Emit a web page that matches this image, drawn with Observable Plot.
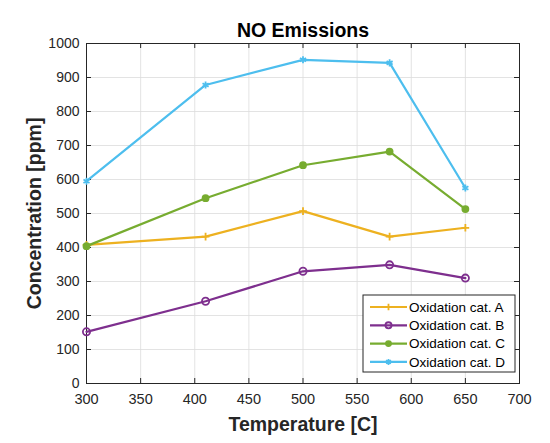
<!DOCTYPE html>
<html><head><meta charset="utf-8">
<script src="https://cdn.jsdelivr.net/npm/d3@7"></script>
<script src="https://cdn.jsdelivr.net/npm/@observablehq/plot@0.6"></script>
<style>body{margin:0;background:#fff;font-family:"Liberation Sans",Arial,sans-serif;}</style>
</head><body><div id="chart"></div>
<script>
const temperatures = [300, 410, 500, 580, 650];
const seriesNames = ["Oxidation cat. A", "Oxidation cat. B", "Oxidation cat. C", "Oxidation cat. D"];
const catA = [408, 432, 507, 432, 458];
const catB = [152, 242, 330, 349, 310];
const catC = [404, 545, 642, 682, 513];
const catD = [595, 878, 952, 943, 575];
const seriesColors = ["#EDB120", "#7E2F8E", "#77AC30", "#4DBEEE"];
const seriesSymbols = ["plus", "circle", "circle", "asterisk"];
const seriesFills = ["none", "none", "#77AC30", "none"];
const seriesR = [2.6, 3.6, 3.0, 3.3];
const xTicks = [300, 350, 400, 450, 500, 550, 600, 650, 700];
const yTicks = [0, 100, 200, 300, 400, 500, 600, 700, 800, 900, 1000];
const titleText = "NO Emissions";
const xLabel = "Temperature [C]";
const yLabel = "Concentration [ppm]";

const allValues = [catA, catB, catC, catD];
const rows = [];
allValues.forEach((vals, i) => vals.forEach((v, j) => rows.push({series: seriesNames[i], idx: i, x: temperatures[j], y: v})));

const W = 550, H = 443;
const mL = 86, mR = 31, mT = 43, mB = 60;
const innerW = W - mL - mR, innerH = H - mT - mB;
const tickLen = 5;
const axisColor = "#262626";

const marks = [
  Plot.gridX(xTicks, {stroke: "#dcdcdc", strokeOpacity: 1, strokeWidth: 0.8}),
  Plot.gridY(yTicks, {stroke: "#dcdcdc", strokeOpacity: 1, strokeWidth: 0.8}),
  Plot.axisX(xTicks, {tickSize: 0, tickPadding: 10, fontSize: 14.5, fill: axisColor, label: null, tickFormat: d3.format("d")}),
  Plot.axisY(yTicks, {tickSize: 0, tickPadding: 7, fontSize: 14, fill: axisColor, label: null, tickFormat: d3.format("d")}),
  Plot.tickX(xTicks, {x: d => d, stroke: axisColor, insetTop: innerH - tickLen}),
  Plot.tickX(xTicks, {x: d => d, stroke: axisColor, insetBottom: innerH - tickLen}),
  Plot.tickY(yTicks, {y: d => d, stroke: axisColor, insetRight: innerW - tickLen}),
  Plot.tickY(yTicks, {y: d => d, stroke: axisColor, insetLeft: innerW - tickLen}),
  Plot.frame({stroke: axisColor, strokeWidth: 1})
];
seriesNames.forEach((name, i) => {
  const data = rows.filter(r => r.idx === i);
  marks.push(Plot.line(data, {x: "x", y: "y", stroke: seriesColors[i], strokeWidth: 2.2}));
  marks.push(Plot.dot(data, {x: "x", y: "y", symbol: () => seriesSymbols[i], stroke: seriesColors[i], fill: seriesFills[i], r: seriesR[i], strokeWidth: 1.8}));
});
marks.push(Plot.text([titleText], {frameAnchor: "top", lineAnchor: "middle", dy: -12.5, fontSize: 19.5, fontWeight: "bold", fill: "#000"}));
marks.push(Plot.text([xLabel], {frameAnchor: "bottom", lineAnchor: "middle", dy: 41, fontSize: 19.5, fontWeight: "bold", fill: axisColor}));
marks.push(Plot.text([yLabel], {frameAnchor: "left", textAnchor: "middle", lineAnchor: "middle", dx: -52, rotate: -90, fontSize: 19.5, fontWeight: "bold", fill: axisColor}));

const chart = Plot.plot({
  width: W, height: H,
  marginLeft: mL, marginRight: mR, marginTop: mT, marginBottom: mB,
  style: {fontFamily: "'Liberation Sans', Arial, sans-serif", background: "#fff", overflow: "visible"},
  x: {domain: [300, 700]},
  y: {domain: [0, 1000]},
  marks
});

// legend
const svg = d3.select(chart);
const lgW = 152, lgH = 77;
const lgX = W - mR - 4 - lgW, lgY = H - mB - 11 - lgH;
const g = svg.append("g").attr("transform", `translate(${lgX},${lgY})`).attr("text-anchor", "start");
g.append("rect").attr("width", lgW).attr("height", lgH).attr("fill", "#fff").attr("stroke", axisColor).attr("stroke-width", 1);
const symMap = {plus: d3.symbolPlus, circle: d3.symbolCircle, asterisk: d3.symbolAsterisk};
seriesNames.forEach((name, i) => {
  const cy = 12 + i * 18.3;
  g.append("line").attr("x1", 7).attr("x2", 44).attr("y1", cy).attr("y2", cy).attr("stroke", seriesColors[i]).attr("stroke-width", 2.2);
  const r = seriesR[i] * 0.85;
  g.append("path").attr("transform", `translate(25.5,${cy})`).attr("d", d3.symbol(symMap[seriesSymbols[i]], Math.PI * r * r)())
    .attr("stroke", seriesColors[i]).attr("fill", seriesFills[i]).attr("stroke-width", 1.8);
  g.append("text").attr("x", 46).attr("y", cy).attr("dy", "0.35em").attr("font-size", 13.5).attr("fill", "#000").text(name);
});
document.getElementById("chart").appendChild(chart);
</script>
</body></html>
